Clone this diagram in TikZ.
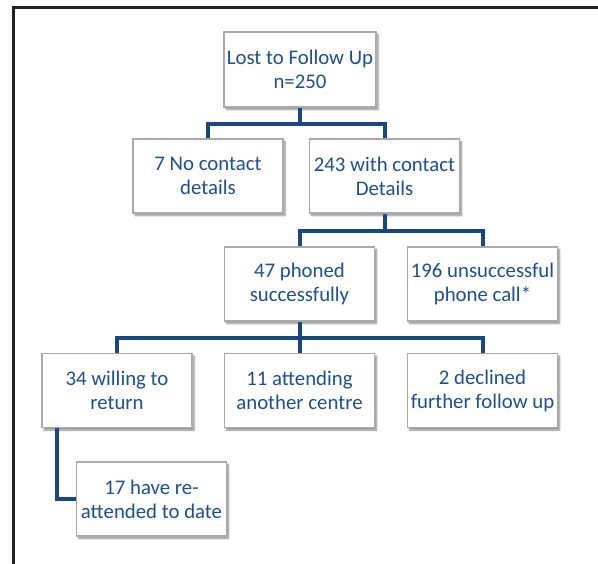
\documentclass[tikz,border=0pt]{standalone}
\usepackage{fontspec}
\setmainfont{Carlito}
\usetikzlibrary{shadows.blur,calc}
\definecolor{txtblue}{RGB}{30,80,142}
\definecolor{linkblue}{RGB}{24,70,130}
\definecolor{boxgray}{RGB}{170,170,170}
\definecolor{framegray}{RGB}{35,31,32}
\tikzset{
  flowbox/.style={draw=boxgray, line width=1.2pt, fill=white,
    minimum width=150pt, minimum height=74pt, inner sep=1pt,
    align=center, text=txtblue,
    font=\fontsize{20.8}{24}\selectfont,
    blur shadow={shadow xshift=2pt, shadow yshift=-2.5pt, shadow blur steps=5, shadow opacity=45}},
  link/.style={draw=linkblue, line width=4pt, line join=miter},
  frameline/.style={draw=framegray, line width=2.5pt}
}
\begin{document}
\begin{tikzpicture}[x=1pt,y=-1pt]
  \useasboundingbox (0,0) rectangle (598,564);
  % outer frame (left and top edges)
  \draw[frameline] (13.5,564) -- (13.5,7.5) -- (598,7.5);

  % boxes
  \node[flowbox, minimum width=152pt, minimum height=75pt] (top) at (300,69.5) {Lost to Follow Up\\n=250};
  \node[flowbox] (nocontact) at (208,176) {7 No contact\\details};
  \node[flowbox] (withcontact) at (384.5,176) {243 with contact\\Details};
  \node[flowbox] (phoned) at (299.5,284) {47 phoned\\successfully};
  \node[flowbox] (unsucc) at (482.5,284) {196 unsuccessful\\phone call*};
  \node[flowbox] (willing) at (117,390.5) {34 willing to\\return};
  \node[flowbox] (attending) at (299.5,390.5) {11 attending\\another centre};
  \node[flowbox] (declined) at (482.5,390.5) {2 declined\\further follow up};
  \node[flowbox] (reattended) at (151.5,499) {17 have re-\\attended to date};

  % connectors
  \draw[link] (top.south) -- ++(0,16) -| (nocontact.north);
  \draw[link] (top.south) -- ++(0,16) -| (withcontact.north);
  \draw[link] (withcontact.south) -- ++(0,17) -| (phoned.north);
  \draw[link] (withcontact.south) -- ++(0,17) -| (unsucc.north);
  \draw[link] (phoned.south) -- ++(0,16) -| (willing.north);
  \draw[link] (phoned.south) -- ++(0,16) -| (attending.north);
  \draw[link] (phoned.south) -- ++(0,16) -| (declined.north);
  \draw[link] ([xshift=-60pt]willing.south) |- (reattended.west);
\end{tikzpicture}
\end{document}
